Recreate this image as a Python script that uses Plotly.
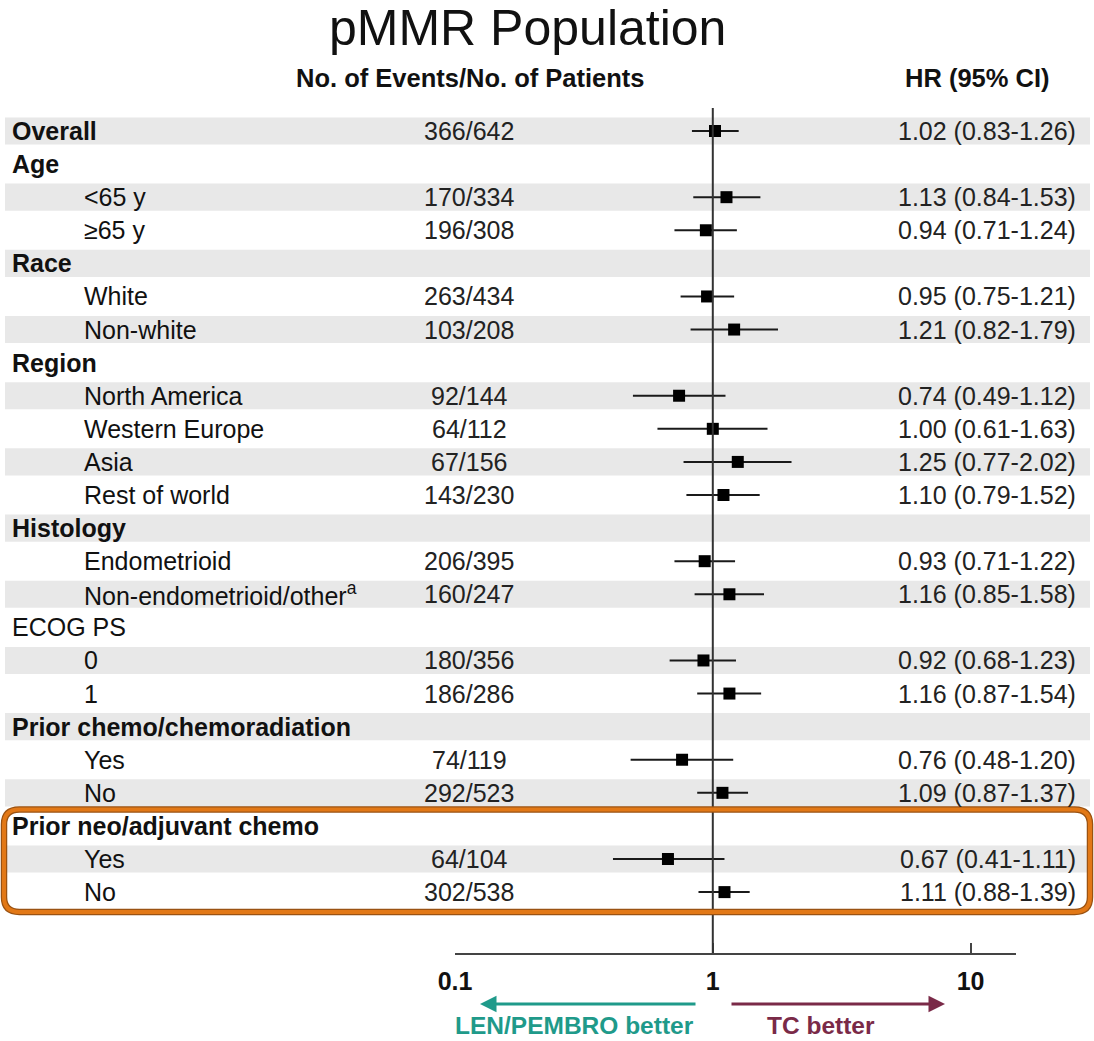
import plotly.graph_objects as go

# ---- data ----
labels = ["Overall", "Age", "<65 y", "≥65 y", "Race", "White", "Non-white",
          "Region", "North America", "Western Europe", "Asia", "Rest of world",
          "Histology", "Endometrioid", "Non-endometrioid/other<sup>a</sup>",
          "ECOG PS", "0", "1",
          "Prior chemo/chemoradiation", "Yes", "No",
          "Prior neo/adjuvant chemo", "Yes", "No"]
is_header = [True, True, False, False, True, False, False,
             True, False, False, False, False,
             True, False, False,
             True, False, False,
             True, False, False,
             True, False, False]
bold_header = [True, True, False, False, True, False, False,
               True, False, False, False, False,
               True, False, False,
               False, False, False,
               True, False, False,
               True, False, False]
events = ["366/642", "", "170/334", "196/308", "", "263/434", "103/208",
          "", "92/144", "64/112", "67/156", "143/230",
          "", "206/395", "160/247",
          "", "180/356", "186/286",
          "", "74/119", "292/523",
          "", "64/104", "302/538"]
hr = [1.02, None, 1.13, 0.94, None, 0.95, 1.21,
      None, 0.74, 1.00, 1.25, 1.10,
      None, 0.93, 1.16,
      None, 0.92, 1.16,
      None, 0.76, 1.09,
      None, 0.67, 1.11]
ci_lo = [0.83, None, 0.84, 0.71, None, 0.75, 0.82,
         None, 0.49, 0.61, 0.77, 0.79,
         None, 0.71, 0.85,
         None, 0.68, 0.87,
         None, 0.48, 0.87,
         None, 0.41, 0.88]
ci_hi = [1.26, None, 1.53, 1.24, None, 1.21, 1.79,
         None, 1.12, 1.63, 2.02, 1.52,
         None, 1.22, 1.58,
         None, 1.23, 1.54,
         None, 1.20, 1.37,
         None, 1.11, 1.39]
tick_vals = [0.1, 1, 10]
tick_text = ["0.1", "1", "10"]

W, H = 1094, 1041
FONT = "Liberation Sans, Arial, sans-serif"
TXT = 25


def px(x):
    return x / W


def py(y):
    return 1 - y / H


n = len(labels)
rows = list(range(n))

fig = go.Figure()

# alternating grey bands
for i in rows:
    if i % 2 == 0:
        fig.add_shape(type="rect", xref="paper", yref="y",
                      x0=px(5), x1=px(1090), y0=i - 0.41, y1=i + 0.41,
                      fillcolor="#e8e8e8", line_width=0, layer="below")

# confidence interval segments
seg_x, seg_y = [], []
for i in rows:
    if hr[i] is not None:
        seg_x += [ci_lo[i], ci_hi[i], None]
        seg_y += [i, i, None]
fig.add_trace(go.Scatter(x=seg_x, y=seg_y, mode="lines",
                         line=dict(color="#1a1a1a", width=2),
                         hoverinfo="skip", showlegend=False))

# point estimates
pts = [i for i in rows if hr[i] is not None]
fig.add_trace(go.Scatter(x=[hr[i] for i in pts], y=pts, mode="markers",
                         marker=dict(symbol="square", size=12, color="black"),
                         showlegend=False))

# line of no effect
fig.add_shape(type="line", xref="x", yref="paper", x0=1, x1=1,
              y0=py(953), y1=py(108), line=dict(color="#333333", width=2))

# row text
anns = []
for i in rows:
    lab = labels[i]
    if is_header[i]:
        txt = f"<b>{lab}</b>" if bold_header[i] else lab
        x0 = px(10)
    else:
        txt = lab
        x0 = px(82)
    anns.append(dict(x=x0, y=i, xref="paper", yref="y", text=txt,
                     showarrow=False, xanchor="left", yanchor="middle",
                     font=dict(size=TXT, color="#111111", family=FONT)))
    if events[i]:
        anns.append(dict(x=px(469), y=i, xref="paper", yref="y",
                         text=events[i], showarrow=False,
                         xanchor="center", yanchor="middle",
                         font=dict(size=TXT, color="#222222", family=FONT)))
    if hr[i] is not None:
        anns.append(dict(x=px(1078), y=i, xref="paper", yref="y",
                         text=f"{hr[i]:.2f} ({ci_lo[i]:.2f}-{ci_hi[i]:.2f})",
                         showarrow=False, xanchor="right", yanchor="middle",
                         font=dict(size=TXT, color="#222222", family=FONT)))

# title and column headers
anns.append(dict(x=px(527), y=py(28), xref="paper", yref="paper",
                 text="pMMR Population", showarrow=False,
                 xanchor="center", yanchor="middle",
                 font=dict(size=50, color="#111111", family=FONT)))
anns.append(dict(x=px(471), y=py(78), xref="paper", yref="paper",
                 text="<b>No. of Events/No. of Patients</b>", showarrow=False,
                 xanchor="center", yanchor="middle",
                 font=dict(size=25.5, color="#111111", family=FONT)))
anns.append(dict(x=px(977), y=py(78), xref="paper", yref="paper",
                 text="<b>HR (95% CI)</b>", showarrow=False,
                 xanchor="center", yanchor="middle",
                 font=dict(size=25.5, color="#111111", family=FONT)))

# direction arrows
TEAL = "#1f9a8a"
MAROON = "#7a2a48"
anns.append(dict(x=px(480), y=py(1004), xref="paper", yref="paper",
                 ax=217, ay=0, axref="pixel", ayref="pixel", text="",
                 showarrow=True, arrowhead=2, arrowsize=1.1, arrowwidth=3,
                 arrowcolor=TEAL))
anns.append(dict(x=px(945), y=py(1004), xref="paper", yref="paper",
                 ax=-215, ay=0, axref="pixel", ayref="pixel", text="",
                 showarrow=True, arrowhead=2, arrowsize=1.1, arrowwidth=3,
                 arrowcolor=MAROON))
anns.append(dict(x=px(574), y=py(1025), xref="paper", yref="paper",
                 text="<b>LEN/PEMBRO better</b>", showarrow=False,
                 xanchor="center", yanchor="middle",
                 font=dict(size=24.5, color=TEAL, family=FONT)))
anns.append(dict(x=px(821), y=py(1025), xref="paper", yref="paper",
                 text="<b>TC better</b>", showarrow=False,
                 xanchor="center", yanchor="middle",
                 font=dict(size=24.5, color=MAROON, family=FONT)))

# highlight box around the prior neo/adjuvant chemo subgroup
r = 0.014
ry = 0.45
x0b, x1b = px(4), px(1090)
y0b, y1b = 20.5, 23.6
path = (f"M {x0b + r},{y0b} L {x1b - r},{y0b} Q {x1b},{y0b} {x1b},{y0b + ry} "
        f"L {x1b},{y1b - ry} Q {x1b},{y1b} {x1b - r},{y1b} "
        f"L {x0b + r},{y1b} Q {x0b},{y1b} {x0b},{y1b - ry} "
        f"L {x0b},{y0b + ry} Q {x0b},{y0b} {x0b + r},{y0b} Z")
fig.add_shape(type="path", xref="paper", yref="y", path=path,
              line=dict(color="#9a5212", width=6.5))
fig.add_shape(type="path", xref="paper", yref="y", path=path,
              line=dict(color="#e27816", width=4))

fig.update_layout(
    width=W, height=H,
    margin=dict(l=0, r=0, t=0, b=0, autoexpand=False),
    paper_bgcolor="white", plot_bgcolor="rgba(0,0,0,0)",
    annotations=anns,
    showlegend=False,
    xaxis=dict(type="log", domain=[px(455), px(1016)],
               range=[-1, 1.1761], tickvals=tick_vals,
               ticktext=[f"<b>{t}</b>" for t in tick_text],
               showline=True, linecolor="#444444", linewidth=2,
               ticks="inside", ticklen=10, tickwidth=2, tickcolor="#444444",
               showgrid=False, zeroline=False, ticklabelstandoff=5,
               automargin=False,
               tickfont=dict(size=TXT, color="#111111", family=FONT),
               fixedrange=True),
    yaxis=dict(domain=[py(953), py(108)], range=[24.84, -0.695],
               visible=False, showgrid=False, zeroline=False,
               automargin=False, fixedrange=True),
)

fig.write_html("out.html")
